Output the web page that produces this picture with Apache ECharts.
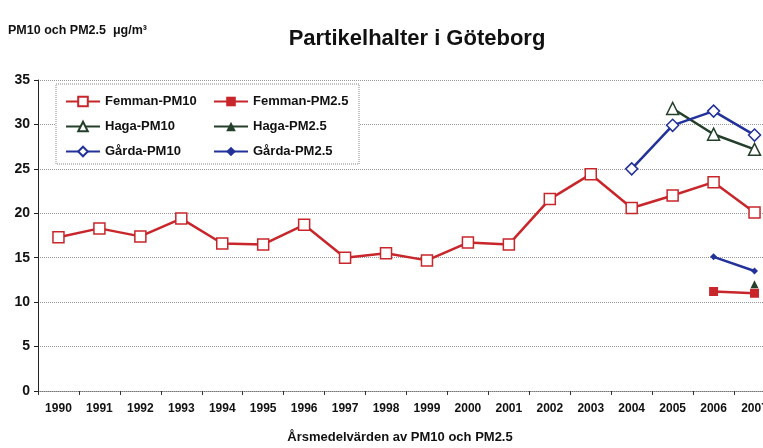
<!DOCTYPE html>
<html>
<head>
<meta charset="utf-8">
<script src="https://cdn.jsdelivr.net/npm/echarts@6/dist/echarts.min.js"></script>
<style>
  html, body { margin: 0; padding: 0; background: #fff; overflow: hidden; }
  /* plot runs past the right edge of the picture, like the cropped original */
  #chart { width: 775px; height: 448px; }
</style>
</head>
<body>
<div id="chart"></div>
<script>
// Partikelhalter i Göteborg - årsmedelvärden
const years = ['1990', '1991', '1992', '1993', '1994', '1995', '1996', '1997', '1998',
  '1999', '2000', '2001', '2002', '2003', '2004', '2005', '2006', '2007'];

const femmanPM10 = [17.3, 18.3, 17.4, 19.4, 16.6, 16.5, 18.7, 15.0, 15.5,
  14.7, 16.7, 16.5, 21.6, 24.4, 20.6, 22.0, 23.5, 20.1];
const femmanPM25 = [null, null, null, null, null, null, null, null, null,
  null, null, null, null, null, null, null, 11.2, 11.0];
const hagaPM10 = [null, null, null, null, null, null, null, null, null,
  null, null, null, null, null, null, 31.8, 28.9, 27.2];
const hagaPM25 = [null, null, null, null, null, null, null, null, null,
  null, null, null, null, null, null, null, null, 12.0];
const gardaPM10 = [null, null, null, null, null, null, null, null, null,
  null, null, null, null, null, 25.0, 29.9, 31.5, 28.8];
const gardaPM25 = [null, null, null, null, null, null, null, null, null,
  null, null, null, null, null, null, null, 15.1, 13.5];

const RED = '#c8262b';
const GREEN = '#24402a';
const BLUE = '#23329a';
const font = 'Liberation Sans, Arial, sans-serif';

function line(name, data, color, symbol, size, hollow) {
  return {
    name: name,
    type: 'line',
    data: data,
    symbol: symbol,
    symbolSize: size,
    showAllSymbol: true,
    connectNulls: false,
    lineStyle: { color: color, width: 2.5 },
    itemStyle: {
      color: hollow ? '#fff' : color,
      borderColor: color,
      borderWidth: hollow ? 1.5 : 0
    },
    emphasis: { disabled: true }
  };
}

const chart = echarts.init(document.getElementById('chart'));
const option = {
  backgroundColor: '#fff',
  animation: false,
  textStyle: { fontFamily: font },
  title: [
    {
      text: 'Partikelhalter i Göteborg',
      left: 417,
      top: 28,
      padding: 0,
      textAlign: 'center',
      textStyle: { fontSize: 22, fontWeight: 'bold', color: '#111', fontFamily: font }
    },
    {
      text: 'PM10 och PM2.5  μg/m³',
      left: 8,
      top: 24,
      padding: 0,
      textStyle: { fontSize: 12.5, fontWeight: 'bold', color: '#111', fontFamily: font }
    },
    {
      text: 'Årsmedelvärden av PM10 och PM2.5',
      left: 400,
      top: 431,
      padding: 0,
      textAlign: 'center',
      textStyle: { fontSize: 13, fontWeight: 'bold', color: '#111', fontFamily: font }
    }
  ],
  legend: {
    left: 56,
    top: 84,
    width: 290,
    padding: [9, 6, 4, 9],
    itemGap: 8,
    itemWidth: 34,
    itemHeight: 12,
    backgroundColor: '#fff',
    borderColor: '#888',
    borderWidth: 1,
    borderType: 'dotted',
    textStyle: { fontSize: 13, fontWeight: 'bold', color: '#111', fontFamily: font, width: 100, height: 17, lineHeight: 17 },
    data: ['Femman-PM10', 'Femman-PM2.5', 'Haga-PM10', 'Haga-PM2.5', 'Gårda-PM10', 'Gårda-PM2.5']
  },
  grid: {
    left: 38,
    top: 80,
    right: 0,
    bottom: 57
  },
  xAxis: {
    type: 'category',
    data: years,
    boundaryGap: true,
    axisLine: { lineStyle: { color: '#777', type: 'dotted', width: 1 } },
    axisTick: { show: true, inside: false, length: 4, lineStyle: { color: '#333' } },
    axisLabel: { fontSize: 12, fontWeight: 'bold', color: '#111', margin: 12, interval: 0, fontFamily: font },
    splitLine: { show: false }
  },
  yAxis: {
    type: 'value',
    min: 0,
    max: 35,
    interval: 5,
    axisLine: { show: true, lineStyle: { color: '#222', width: 1 } },
    axisTick: { show: true, length: 4, lineStyle: { color: '#222' } },
    axisLabel: { fontSize: 14, fontWeight: 'bold', color: '#111', margin: 8, fontFamily: font },
    splitLine: { show: true, lineStyle: { color: '#999', type: 'dotted', width: 1 } }
  },
  series: [
    line('Femman-PM10', femmanPM10, RED, 'rect', 11, true),
    line('Femman-PM2.5', femmanPM25, RED, 'rect', 9, false),
    line('Haga-PM10', hagaPM10, GREEN, 'triangle', 12, true),
    line('Haga-PM2.5', hagaPM25, GREEN, 'triangle', 8, false),
    line('Gårda-PM10', gardaPM10, BLUE, 'diamond', 12, true),
    line('Gårda-PM2.5', gardaPM25, BLUE, 'diamond', 7, false)
  ]
};
chart.setOption(option);
</script>
</body>
</html>
